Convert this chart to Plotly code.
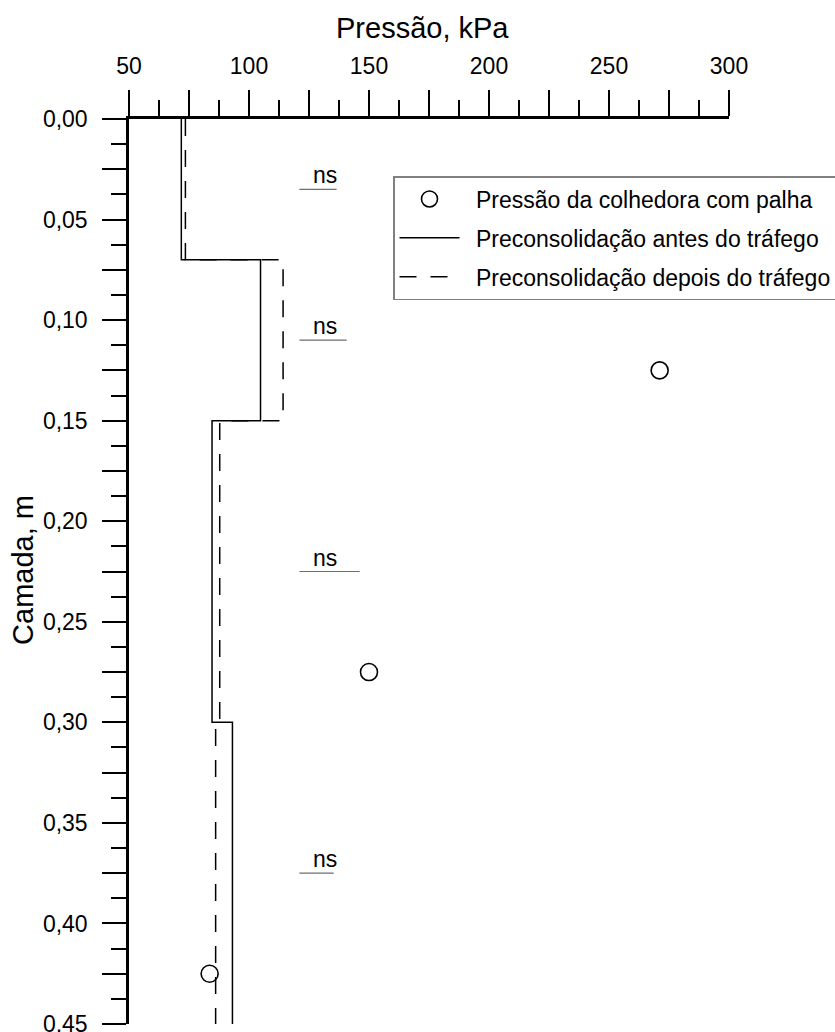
import plotly.graph_objects as go

# ---- data ----
layer_bounds = [0.0, 0.07, 0.15, 0.30, 0.45]          # depth boundaries (m)
pre_antes = [71.8, 104.8, 84.6, 93.1]                  # kPa per layer, before traffic
pre_depois = [73.5, 114.2, 87.8, 86.1]                 # kPa per layer, after traffic
colhedora_depth = [0.125, 0.275, 0.425]                # m
colhedora_pressao = [271.1, 150.0, 83.6]               # kPa
ns_depth = [0.035, 0.11, 0.225, 0.375]                 # m
ns_text_x = [126.0, 126.0, 126.0, 126.0]               # kPa
ns_line_start = [121.0, 121.0, 121.0, 121.0]           # kPa
ns_line_end = [136.5, 140.7, 146.1, 135.3]             # kPa

x_tickvals = [50, 75, 100, 125, 150, 175, 200, 225, 250, 275, 300]
x_ticktext = ["50", "", "100", "", "150", "", "200", "", "250", "", "300"]
y_tickvals = [0.0, 0.025, 0.05, 0.075, 0.10, 0.125, 0.15, 0.175, 0.20, 0.225,
              0.25, 0.275, 0.30, 0.325, 0.35, 0.375, 0.40, 0.425, 0.45]
y_ticktext = ["0,00", "", "0,05", "", "0,10", "", "0,15", "", "0,20", "",
              "0,25", "", "0,30", "", "0,35", "", "0,40", "", "0,45"]

FONT = "Liberation Sans, Arial, sans-serif"
GAP = "\u2002"

fig = go.Figure()

fig.add_trace(go.Scatter(
    x=colhedora_pressao, y=colhedora_depth, mode="markers",
    name=GAP + "Pressão da colhedora com palha",
    marker=dict(symbol="circle-open", size=17, color="black", line=dict(width=1.6, color="black")),
    legendgroup="a",
))
fig.add_trace(go.Scatter(
    x=pre_antes + [pre_antes[-1]], y=layer_bounds, mode="lines", line_shape="vh",
    name=GAP + "Preconsolidação antes do tráfego",
    line=dict(color="black", width=1.5),
    legendgroup="b",
))
fig.add_trace(go.Scatter(
    x=pre_depois + [pre_depois[-1]], y=layer_bounds, mode="lines", line_shape="vh",
    name=GAP + "Preconsolidação depois do tráfego",
    line=dict(color="black", width=1.5, dash="17px,14px"),
    legendgroup="c",
))

for d, xs, xe in zip(ns_depth, ns_line_start, ns_line_end):
    fig.add_trace(go.Scatter(
        x=[xs, xe], y=[d, d], mode="lines", showlegend=False, hoverinfo="skip",
        line=dict(color="#6e6e6e", width=1.2),
    ))

for d, tx in zip(ns_depth, ns_text_x):
    fig.add_annotation(x=tx, y=d, xref="x", yref="y", text="ns", showarrow=False,
                       xanchor="left", yanchor="bottom", yshift=-1,
                       font=dict(family=FONT, size=23, color="black"))

# axis titles
fig.add_annotation(x=0.4895, y=1.101, xref="paper", yref="paper", text="Pressão, kPa",
                   showarrow=False, xanchor="center", yanchor="middle",
                   font=dict(family=FONT, size=29, color="black"))
fig.add_annotation(x=-0.177, y=0.5015, xref="paper", yref="paper", text="Camada, m",
                   showarrow=False, xanchor="center", yanchor="middle", textangle=-90,
                   font=dict(family=FONT, size=29, color="black"))

fig.update_layout(
    width=835, height=1032,
    margin=dict(l=129, r=106, t=119, b=8, autoexpand=False),
    paper_bgcolor="white", plot_bgcolor="white",
    font=dict(family=FONT, size=23, color="black"),
    showlegend=True,
    legend=dict(x=0.44, y=0.937, xanchor="left", yanchor="top",
                bordercolor="#808080", borderwidth=1.5, bgcolor="white",
                font=dict(family=FONT, size=23, color="black"),
                tracegroupgap=6, itemwidth=60),
)

fig.update_xaxes(
    range=[50, 300], side="top", showline=True, linewidth=2.5, linecolor="black",
    ticks="outside", ticklen=26, tickwidth=2, tickcolor="black",
    tickmode="array", tickvals=x_tickvals, ticktext=x_ticktext,
    minor=dict(ticks="outside", tick0=50, dtick=12.5, ticklen=16, tickwidth=2, tickcolor="black"),
    showgrid=False, zeroline=False, tickfont=dict(family=FONT, size=23),
    ticklabelstandoff=7, ticklabeloverflow="allow", automargin=False,
)
fig.update_yaxes(
    range=[0.45, 0], showline=True, linewidth=2.5, linecolor="black",
    ticks="outside", ticklen=24, tickwidth=2, tickcolor="black",
    tickmode="array", tickvals=y_tickvals, ticktext=y_ticktext,
    minor=dict(ticks="outside", tick0=0, dtick=0.0125, ticklen=15, tickwidth=2, tickcolor="black"),
    showgrid=False, zeroline=False, tickfont=dict(family=FONT, size=23),
    ticklabelstandoff=10, ticklabeloverflow="allow", automargin=False,
)

fig.write_html("out.html", config={"displayModeBar": False},
               post_script="document.body.style.margin='0';document.body.style.overflow='hidden';")
